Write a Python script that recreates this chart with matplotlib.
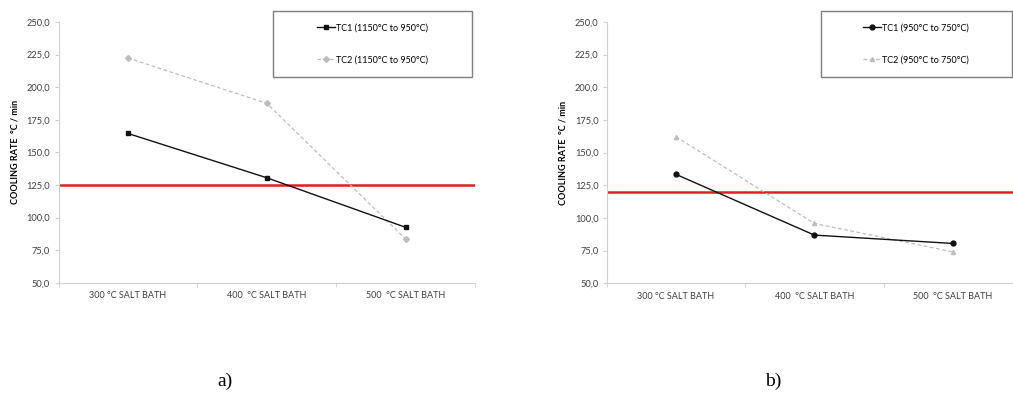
import numpy as np
import matplotlib.pyplot as plt
from matplotlib.patches import Rectangle
from matplotlib.ticker import FuncFormatter

categories = ["300 °C SALT BATH", "400  °C SALT BATH", "500  °C SALT BATH"]

tc1_a = [164.5, 130.5, 92.5]
tc2_a = [222.4, 187.6, 83.5]
limit_a = 125.0

tc1_b = [133.4, 86.9, 80.5]
tc2_b = [162.2, 95.8, 74.1]
limit_b = 119.6

W, H = 1013, 394
plt.rcParams["font.family"] = ["Lato", "DejaVu Sans"]

fig = plt.figure(figsize=(W / 100, H / 100), dpi=100)


def px_axes(x0, y0, x1, y1):
    # pixel box (top-left origin) -> figure fraction
    return fig.add_axes([x0 / W, 1 - y1 / H, (x1 - x0) / W, (y1 - y0) / H])


def px_legend_box(x0, y0, x1, y1):
    fig.patches.append(Rectangle((x0 / W, 1 - y1 / H), (x1 - x0) / W, (y1 - y0) / H,
                                 transform=fig.transFigure, fill=False,
                                 edgecolor="#7f7f7f", linewidth=1.0))
    return ((x0 + x1) / 2 / W, 1 - (y0 + y1) / 2 / H)


def draw(ax, tc1, tc2, limit, m1, m2, lab1, lab2, box):
    x = np.arange(len(categories))
    ax.axhline(limit, color="#e02020", linewidth=1.8, zorder=1)
    l1, = ax.plot(x, tc1, color="#111111", linewidth=1.0, marker=m1, markersize=3.5, zorder=3)
    l2, = ax.plot(x, tc2, color="#bdbdbd", linewidth=0.9, linestyle=(0, (3, 2)),
                  marker=m2, markersize=3, zorder=2)
    ax.set_xlim(-0.5, 2.5)
    ax.set_ylim(50, 250)
    ax.set_yticks(np.arange(50, 251, 25))
    ax.yaxis.set_major_formatter(FuncFormatter(lambda v, p: f"{v:.1f}".replace(".", ",")))
    ax.set_xticks(x)
    ax.set_xticklabels(categories)
    ax.set_xticks([-0.5, 0.5, 1.5, 2.5], minor=True)
    ax.tick_params(axis="x", which="major", length=0, labelsize=6.5, colors="#404040", pad=6)
    ax.tick_params(axis="x", which="minor", length=3, color="#d0d0d0")
    ax.tick_params(axis="y", length=3, color="#d0d0d0", labelsize=6.7, labelcolor="#404040", pad=3)
    for s in ["top", "right"]:
        ax.spines[s].set_visible(False)
    for s in ["left", "bottom"]:
        ax.spines[s].set_color("#d0d0d0")
    ax.set_ylabel("COOLING RATE  °C / min", fontsize=6.5, fontweight="bold")
    ax.yaxis.set_label_coords(-39 / ax.bbox.width, 0.5)
    center = px_legend_box(*box)
    fig.legend([l1, l2], [lab1, lab2], loc="center", bbox_to_anchor=center,
               bbox_transform=fig.transFigure, frameon=False, fontsize=6.5,
               handlelength=2.0, handletextpad=0.1, labelspacing=2.6)


ax1 = px_axes(58.5, 22, 475, 282.7)
draw(ax1, tc1_a, tc2_a, limit_a, "s", "D",
     "TC1 (1150°C to 950°C)", "TC2 (1150°C to 950°C)", (273, 10.7, 471.5, 77))

ax2 = px_axes(606.7, 22, 1022, 283.3)
draw(ax2, tc1_b, tc2_b, limit_b, "o", "^",
     "TC1 (950°C to 750°C)", "TC2 (950°C to 750°C)", (820.7, 10.7, 1011.5, 77))

fig.text(225 / W, 1 - 381 / H, "a)", fontsize=14, family="Liberation Serif", ha="center", va="center")
fig.text(773 / W, 1 - 381 / H, "b)", fontsize=14, family="Liberation Serif", ha="center", va="center")

fig.savefig("out.png", dpi=100)
